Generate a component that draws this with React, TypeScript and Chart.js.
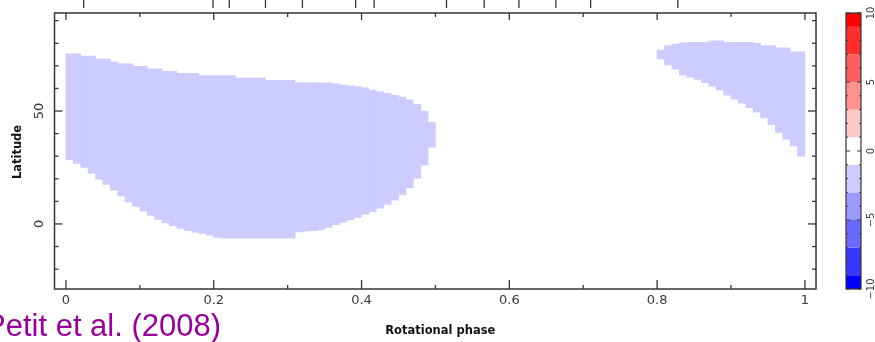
import React, { useEffect, useRef } from 'react';
import { Chart, registerables } from 'chart.js';

Chart.register(...registerables);

// ---- Data ----
// Spot 1: column centre phases, lower and upper latitude of the magnetic (blue) region
const spot1Phase = [
  0.005, 0.015, 0.025, 0.035, 0.045, 0.055, 0.065, 0.075, 0.085, 0.095,
  0.105, 0.115, 0.125, 0.135, 0.145, 0.155, 0.165, 0.175, 0.185, 0.195,
  0.205, 0.215, 0.225, 0.235, 0.245, 0.255, 0.265, 0.275, 0.285, 0.295,
  0.305, 0.315, 0.325, 0.335, 0.345, 0.355, 0.365, 0.375, 0.385, 0.395,
  0.405, 0.415, 0.425, 0.435, 0.445, 0.455, 0.465, 0.475, 0.485, 0.495,
];
const spot1Low = [
  28.5, 26.8, 25.0, 22.5, 19.8, 17.5, 15.0, 12.4, 9.8, 7.8,
  5.8, 3.8, 2.0, 0.5, -0.8, -2.0, -3.0, -3.6, -4.2, -5.0,
  -6.0, -6.3, -6.3, -6.3, -6.3, -6.3, -6.3, -6.3, -6.3, -6.3,
  -6.3, -3.5, -3.2, -3.0, -2.6, -1.5, -0.3, 0.8, 1.8, 2.9,
  4.2, 5.4, 7.0, 8.6, 10.5, 12.8, 15.9, 20.3, 26.0, 34.0,
];
const spot1High = [
  75.3, 75.3, 74.3, 74.3, 73.0, 73.0, 71.8, 70.9, 70.9, 69.8,
  69.8, 68.7, 68.7, 67.6, 67.6, 66.7, 66.7, 66.7, 65.7, 65.7,
  65.7, 65.7, 65.7, 64.6, 64.6, 64.6, 64.6, 63.6, 63.6, 63.6,
  63.6, 62.5, 62.5, 62.5, 62.5, 62.5, 62.0, 61.5, 61.2, 60.8,
  60.3, 59.3, 58.5, 57.8, 57.0, 56.2, 55.0, 53.0, 50.0, 45.0,
];
// Spot 2
const spot2Phase = [
  0.805, 0.815, 0.825, 0.835, 0.845, 0.855, 0.865, 0.875, 0.885, 0.895,
  0.905, 0.915, 0.925, 0.935, 0.945, 0.955, 0.965, 0.975, 0.985, 0.995,
];
const spot2Low = [
  73.0, 70.4, 68.5, 66.0, 65.0, 64.0, 62.5, 61.0, 59.3, 57.0,
  55.2, 53.5, 51.5, 49.5, 47.0, 44.0, 40.5, 37.5, 34.5, 30.0,
];
const spot2High = [
  77.0, 79.0, 79.6, 80.2, 80.4, 80.4, 80.4, 81.1, 81.1, 80.4,
  80.4, 80.4, 80.4, 80.0, 79.0, 79.0, 78.0, 78.0, 76.2, 76.2,
];
const spotColor = 'rgb(204,204,255)';

// Axis ticks
const xMinorTicks = [0.1, 0.3, 0.5, 0.7, 0.9];
const xMajorTicks = [0, 0.2, 0.4, 0.6, 0.8, 1];
const xTickLabels = ['0', '0.2', '0.4', '0.6', '0.8', '1'];
const yMinorTicks = [-20, -10, 10, 20, 30, 40, 60, 70, 80, 90];
const yMajorTicks = [0, 50];
const yTickLabels = ['0', '50'];
// Observation phases (top axis)
const obsPhases = [0.024, 0.199, 0.221, 0.270, 0.320, 0.392, 0.417, 0.515, 0.566, 0.613, 0.663, 0.710, 0.828];

// Colour bar
const cbLevels = [-10, -9, -7, -5, -3, -1, 1, 3, 5, 7, 9, 10];
const cbColors = [
  'rgb(0,0,255)', 'rgb(55,55,255)', 'rgb(105,105,255)', 'rgb(155,155,255)', 'rgb(204,204,255)',
  'rgb(255,255,255)',
  'rgb(255,200,200)', 'rgb(255,145,145)', 'rgb(255,95,95)', 'rgb(255,45,45)', 'rgb(255,0,0)',
];
const cbTickValues = [-10, -5, 0, 5, 10];
const cbTickLabels = ['−10', '−5', '0', '5', '10'];
const cbMinorTicks = [-9, -8, -7, -6, -4, -3, -2, -1, 1, 2, 3, 4, 6, 7, 8, 9];

const AXIS = '#363636';
const TEXT = '#3a3a3a';

const decorPlugin = {
  id: 'decor',
  afterDraw(chart: any) {
    const ctx = chart.ctx as CanvasRenderingContext2D;
    const xs = chart.scales.x;
    const ys = chart.scales.y;
    const cb = chart.scales.cb;
    const { left, right, top, bottom } = chart.chartArea;
    ctx.save();
    ctx.strokeStyle = AXIS;
    ctx.lineWidth = 1.5;
    ctx.strokeRect(left, top, right - left, bottom - top);

    const line = (x1: number, y1: number, x2: number, y2: number) => {
      ctx.beginPath();
      ctx.moveTo(x1, y1);
      ctx.lineTo(x2, y2);
      ctx.stroke();
    };
    ctx.lineWidth = 1.3;
    // x ticks (inside, bottom and top)
    xMajorTicks.forEach((v) => {
      const px = xs.getPixelForValue(v);
      line(px, bottom, px, bottom - 9);
      line(px, top, px, top + 7);
    });
    xMinorTicks.forEach((v) => {
      const px = xs.getPixelForValue(v);
      line(px, bottom, px, bottom - 4);
      line(px, top, px, top + 4);
    });
    // y ticks (inside, left and right)
    yMajorTicks.forEach((v) => {
      const py = ys.getPixelForValue(v);
      line(left, py, left + 8, py);
      line(right, py, right - 8, py);
    });
    yMinorTicks.forEach((v) => {
      const py = ys.getPixelForValue(v);
      line(left, py, left + 4, py);
      line(right, py, right - 4, py);
    });
    // observation phases above the frame
    obsPhases.forEach((p) => {
      const px = xs.getPixelForValue(p);
      line(px, 0, px, 8);
    });

    // tick labels
    ctx.fillStyle = TEXT;
    ctx.font = '13px "DejaVu Sans"';
    ctx.textAlign = 'center';
    ctx.textBaseline = 'middle';
    xMajorTicks.forEach((v, i) => {
      ctx.fillText(xTickLabels[i], xs.getPixelForValue(v), bottom + 12);
    });
    yMajorTicks.forEach((v, i) => {
      ctx.save();
      ctx.translate(left - 15, ys.getPixelForValue(v));
      ctx.rotate(-Math.PI / 2);
      ctx.fillText(yTickLabels[i], 0, 0);
      ctx.restore();
    });

    // axis titles
    ctx.fillStyle = '#111';
    ctx.font = 'bold 11.5px "DejaVu Sans"';
    ctx.fillText('Rotational phase', (left + right) / 2 + 5, bottom + 42);
    ctx.save();
    ctx.translate(18, 152);
    ctx.rotate(-Math.PI / 2);
    ctx.fillText('Latitude', 0, 0);
    ctx.restore();

    // colour bar
    const cbX = 846;
    const cbW = 15;
    for (let i = 0; i < cbColors.length; i++) {
      const y0 = cb.getPixelForValue(cbLevels[i]);
      const y1 = cb.getPixelForValue(cbLevels[i + 1]);
      ctx.fillStyle = cbColors[i];
      ctx.fillRect(cbX, y1, cbW, y0 - y1);
    }
    ctx.strokeStyle = AXIS;
    ctx.lineWidth = 1.2;
    const cbTop = cb.getPixelForValue(10);
    const cbBot = cb.getPixelForValue(-10);
    ctx.strokeRect(cbX, cbTop, cbW, cbBot - cbTop);
    ctx.lineWidth = 1;
    cbTickValues.forEach((v) => {
      const py = cb.getPixelForValue(v);
      line(cbX, py, cbX + 4, py);
      line(cbX + cbW, py, cbX + cbW - 4, py);
    });
    cbMinorTicks.forEach((v) => {
      const py = cb.getPixelForValue(v);
      line(cbX, py, cbX + 2, py);
      line(cbX + cbW, py, cbX + cbW - 2, py);
    });
    ctx.fillStyle = TEXT;
    ctx.font = '10px "DejaVu Sans"';
    cbTickValues.forEach((v, i) => {
      ctx.save();
      ctx.translate(cbX + cbW + 10, cb.getPixelForValue(v));
      ctx.rotate(-Math.PI / 2);
      ctx.fillText(cbTickLabels[i], 0, 0);
      ctx.restore();
    });

    // citation
    ctx.fillStyle = '#990099';
    ctx.font = '31px "Liberation Sans"';
    ctx.textAlign = 'left';
    ctx.textBaseline = 'alphabetic';
    ctx.fillText('Petit et al. (2008)', -15, 336);
    ctx.restore();
  },
};

export default function App() {
  const ref = useRef<HTMLCanvasElement | null>(null);
  useEffect(() => {
    document.body.style.margin = '0';
    const canvas = ref.current;
    if (!canvas) return;
    const points = [
      ...spot1Phase.map((p, i) => ({ x: p, y: [spot1Low[i], spot1High[i]] })),
      ...spot2Phase.map((p, i) => ({ x: p, y: [spot2Low[i], spot2High[i]] })),
    ];
    const chart = new Chart(canvas, {
      type: 'bar',
      data: {
        datasets: [
          {
            label: 'Br',
            data: points as any,
            backgroundColor: spotColor,
            borderWidth: 0,
            barPercentage: 1,
            categoryPercentage: 1,
          },
        ],
      },
      options: {
        responsive: false,
        animation: false,
        devicePixelRatio: 1,
        events: [],
        layout: { padding: { left: 54.5, right: 59, top: 13, bottom: 53 } },
        plugins: { legend: { display: false }, tooltip: { enabled: false } },
        scales: {
          x: { type: 'linear', offset: false, min: -0.0155, max: 1.015, display: false },
          y: { type: 'linear', min: -28.8, max: 93.4, display: false },
          cb: { type: 'linear', axis: 'y', position: 'right', min: -10, max: 10, display: false },
        },
      },
      plugins: [decorPlugin],
    });
    return () => chart.destroy();
  }, []);
  return (
    <div style={{ position: 'fixed', left: 0, top: 0, width: 875, height: 342, background: '#fff' }}>
      <canvas ref={ref} width={875} height={342} />
    </div>
  );
}
